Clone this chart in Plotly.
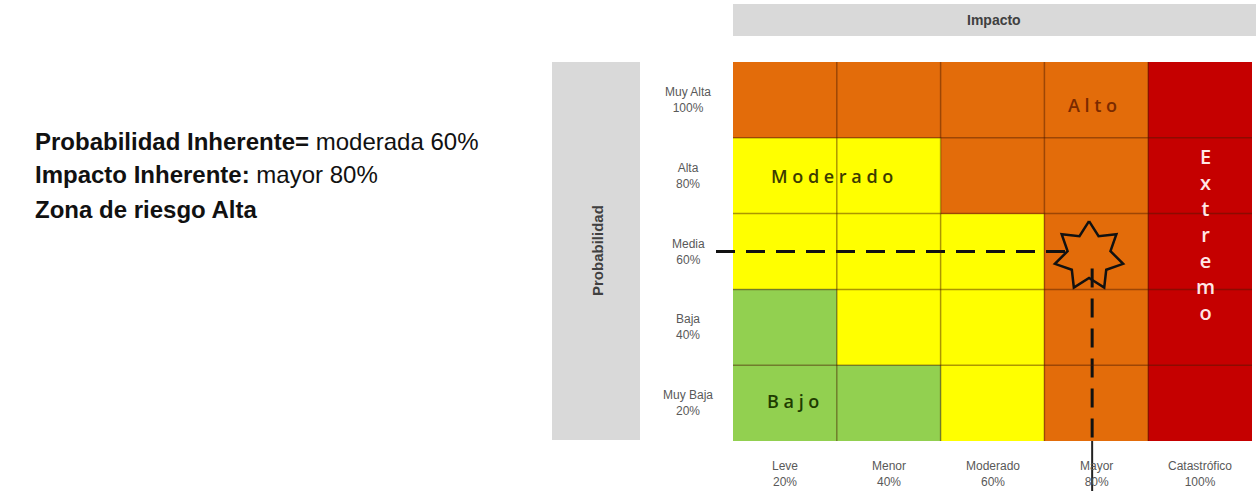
import numpy as np
import plotly.graph_objects as go

W, H = 1256, 493

# ---------------- data ----------------
impact_labels = ["Leve", "Menor", "Moderado", "Mayor", "Catastrófico"]
impact_pct = ["20%", "40%", "60%", "80%", "100%"]
prob_labels = ["Muy Baja", "Baja", "Media", "Alta", "Muy Alta"]   # bottom -> top
prob_pct = ["20%", "40%", "60%", "80%", "100%"]
# zone code per cell (rows bottom -> top, columns Leve -> Catastrófico)
zone_matrix = [
    [0, 0, 1, 2, 3],
    [0, 1, 1, 2, 3],
    [1, 1, 1, 2, 3],
    [1, 1, 2, 2, 3],
    [2, 2, 2, 2, 3],
]
zone_names = ["Bajo", "Moderado", "Alto", "Extremo"]
zone_colors = ["#92D050", "#FFFF00", "#E36C0A", "#C50000"]
point_impact = "Mayor"
point_prob = "Media"

# ---------------- layout geometry (pixels) ----------------
gx0, gx1 = 733, 1252      # grid left / right
gy0, gy1 = 62, 441        # grid top / bottom
ext_left, ext_bottom = 716, 491   # guide lines reach out to here
nx, ny = len(impact_labels), len(prob_labels)
px_x = (gx1 - gx0) / nx
px_y = (gy1 - gy0) / ny


def pxx(p):
    return p / W


def pxy(p):
    return 1 - p / H


SANS = "Liberation Sans, Arial, sans-serif"
LABEL = "Open Sans, Calibri, sans-serif"

fig = go.Figure()

# heatmap of zones
n = len(zone_colors)
cs = []
for i, c in enumerate(zone_colors):
    cs += [[i / n, c], [(i + 1) / n, c]]
fig.add_trace(go.Heatmap(
    z=zone_matrix, x=list(range(nx)), y=list(range(ny)),
    colorscale=cs, zmin=-0.5, zmax=n - 0.5, showscale=False,
    hoverinfo="skip",
))

# point of evaluation
cx = impact_labels.index(point_impact)
cy = prob_labels.index(point_prob)

# star (7 points) around the point, built in pixel units then scaled to data
k = 7
r_out, r_in = 35, 22
ang = np.pi / 2 + np.arange(2 * k) * np.pi / k
rad = np.where(np.arange(2 * k) % 2 == 0, r_out, r_in)
sx = cx - 0.07 + rad * np.cos(ang) / px_x
sy = cy - 0.06 + rad * np.sin(ang) / px_y
sx = np.append(sx, sx[0])
sy = np.append(sy, sy[0])

x_lo = -0.5 - (gx0 - ext_left) / px_x
y_lo = -0.5 - (ext_bottom - gy1) / px_y

# dashed guide lines
fig.add_trace(go.Scatter(
    x=[x_lo, cx - 22 / px_x], y=[cy, cy], mode="lines",
    line=dict(color="#111111", width=3, dash="19px,11px"),
    hoverinfo="skip", showlegend=False))
fig.add_trace(go.Scatter(
    x=[cx - 0.04, cx - 0.04], y=[cy - 17 / px_y, -0.5], mode="lines",
    line=dict(color="#111111", width=3, dash="19px,11px"),
    hoverinfo="skip", showlegend=False))
fig.add_trace(go.Scatter(
    x=[cx - 0.04, cx - 0.04], y=[-0.5, y_lo], mode="lines",
    line=dict(color="#222222", width=2),
    hoverinfo="skip", showlegend=False))
fig.add_trace(go.Scatter(
    x=sx, y=sy, mode="lines", line=dict(color="#111111", width=2.5),
    hoverinfo="skip", showlegend=False))

shapes = []
# cell grid lines
for i in range(1, nx):
    shapes.append(dict(type="line", xref="x", yref="y", x0=i - 0.5, x1=i - 0.5,
                       y0=-0.5, y1=ny - 0.5, line=dict(color="rgba(70,25,0,0.45)", width=1.5)))
for j in range(1, ny):
    shapes.append(dict(type="line", xref="x", yref="y", x0=-0.5, x1=nx - 0.5,
                       y0=j - 0.5, y1=j - 0.5, line=dict(color="rgba(70,25,0,0.45)", width=1.5)))
# gray header bars
shapes.append(dict(type="rect", xref="paper", yref="paper", layer="below",
                   x0=pxx(733), x1=pxx(1256), y0=pxy(36), y1=pxy(4),
                   fillcolor="#D9D9D9", line=dict(width=0)))
shapes.append(dict(type="rect", xref="paper", yref="paper", layer="below",
                   x0=pxx(552), x1=pxx(640), y0=pxy(440), y1=pxy(62),
                   fillcolor="#D9D9D9", line=dict(width=0)))

ann = []
ann.append(dict(text="<b>Impacto</b>", x=pxx(994), y=pxy(20), xref="paper", yref="paper",
                xanchor="center", yanchor="middle",
                showarrow=False, font=dict(family=SANS, size=14, color="#404040")))
ann.append(dict(text="<b>Probabilidad</b>", x=pxx(597), y=pxy(251), xref="paper", yref="paper",
                xanchor="center", yanchor="middle",
                textangle=-90, showarrow=False,
                font=dict(family=SANS, size=15, color="#404040")))
# probability labels
for j, (lab, pct) in enumerate(zip(prob_labels, prob_pct)):
    ann.append(dict(text=f"{lab}<br>{pct}", x=pxx(688), y=j, xref="paper", yref="y",
                    xanchor="center", yanchor="middle",
                    showarrow=False, align="center",
                    font=dict(family=SANS, size=12, color="#595959")))
# impact labels
for i, (lab, pct) in enumerate(zip(impact_labels, impact_pct)):
    ann.append(dict(text=f"{lab}<br>{pct}", x=i, y=pxy(474), xref="x", yref="paper",
                    xanchor="center", yanchor="middle",
                    showarrow=False, align="center",
                    font=dict(family=SANS, size=12, color="#595959")))
# zone labels
ann.append(dict(text="A l t o", x=cx - 0.04, y=4 - 0.07, xref="x", yref="y", showarrow=False,
                xanchor="center", yanchor="middle",
                font=dict(family=LABEL, size=18, weight=600, color="#7A2A00")))
ann.append(dict(text="M o d e r a d o", x=0.45, y=3, xref="x", yref="y", showarrow=False,
                xanchor="center", yanchor="middle",
                font=dict(family=LABEL, size=18, weight=600, color="#3C3C00")))
ann.append(dict(text="B a j o", x=0.08, y=0.03, xref="x", yref="y", showarrow=False,
                xanchor="center", yanchor="middle",
                font=dict(family=LABEL, size=18, weight=600, color="#1E3C00")))
ann.append(dict(text="<br>".join(list("Extremo")), x=4 + 0.05, y=2.22, xref="x", yref="y",
                xanchor="center", yanchor="middle",
                showarrow=False, align="center",
                font=dict(family=LABEL, size=20, weight=600, color="#FFE6E6")))
# left summary text
left_lines = [
    "<b>Probabilidad Inherente=</b> moderada 60%",
    "<b>Impacto Inherente:</b> mayor 80%",
    "<b>Zona de riesgo Alta</b>",
]
for t, yy in zip(left_lines, [141, 175, 209]):
    ann.append(dict(text=t, x=pxx(33), y=pxy(yy), xref="paper", yref="paper",
                    xanchor="left", yanchor="middle", showarrow=False,
                    font=dict(family=SANS, size=24, color="#111111")))

fig.update_layout(
    width=W, height=H, autosize=False,
    margin=dict(l=0, r=0, t=0, b=0),
    paper_bgcolor="white", plot_bgcolor="rgba(0,0,0,0)",
    showlegend=False,
    shapes=shapes, annotations=ann,
    xaxis=dict(domain=[pxx(ext_left), pxx(gx1)], range=[x_lo, nx - 0.5],
               showticklabels=False, ticks="", showgrid=False, zeroline=False,
               showline=False, fixedrange=True),
    yaxis=dict(domain=[pxy(ext_bottom), pxy(gy0)], range=[y_lo, ny - 0.5],
               showticklabels=False, ticks="", showgrid=False, zeroline=False,
               showline=False, fixedrange=True),
)

fig.write_html("out.html", config={"displayModeBar": False})
